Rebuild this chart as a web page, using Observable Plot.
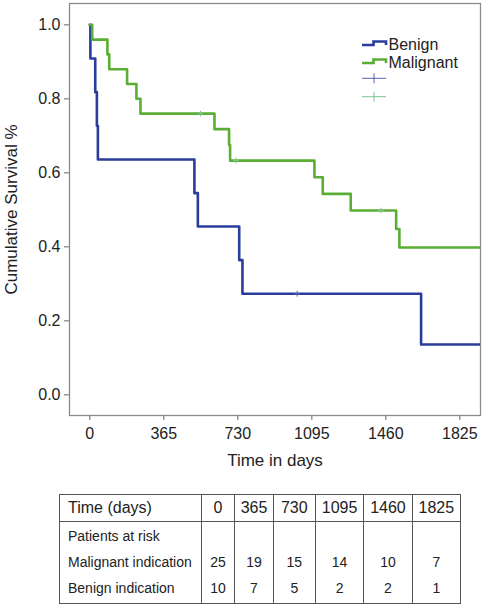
<!DOCTYPE html>
<html>
<head>
<meta charset="utf-8">
<script src="https://cdn.jsdelivr.net/npm/d3@7"></script>
<script src="https://cdn.jsdelivr.net/npm/@observablehq/plot@0.6"></script>
<style>
  html, body { margin: 0; padding: 0; background: #fff; }
  #wrap { position: relative; width: 483px; height: 605px; font-family: "Liberation Sans", Arial, sans-serif; color: #222; }
  #legend { position: absolute; left: 0; top: 0; pointer-events: none; }
  #risk { position: absolute; left: 59px; top: 494px; border-collapse: collapse; table-layout: fixed; color: #222; font-family: "Liberation Sans", Arial, sans-serif; }
  #risk td { border-left: 1.5px solid #555; border-right: 1.5px solid #555; padding: 0; text-align: center; }
  #risk { border: 1.5px solid #555; }
  #risk tr.head td { height: 26px; font-size: 16px; border-bottom: 1.5px solid #555; }
  #risk tr.body td { font-size: 14px; line-height: 26.2px; padding: 1px 0 1px 0; vertical-align: top; }
  #risk tr td.lab { text-align: left; padding-left: 8px; }
</style>
</head>
<body>
<div id="wrap"></div>
<script>
// ---- data ----
const seriesNames = ["Benign", "Malignant"];
const seriesColors = ["#2b3d9c", "#5aae33"];
const censorColors = ["#5466b4", "#7cc48e"];

const benignTime = [0, 3, 27, 35, 40, 516, 533, 737, 753, 1634, 1927];
const benignSurv = [1, 0.909, 0.818, 0.727, 0.636, 0.545, 0.455, 0.364, 0.273, 0.136, 0.136];
const benignCensorTime = [1023];
const benignCensorSurv = [0.273];

const malignantTime = [0, 12, 87, 96, 184, 230, 250, 615, 687, 692, 1108, 1149, 1287, 1511, 1527, 1927];
const malignantSurv = [1, 0.96, 0.92, 0.88, 0.84, 0.80, 0.76, 0.718, 0.676, 0.633, 0.588, 0.543, 0.498, 0.448, 0.398, 0.398];
const malignantCensorTime = [546, 720, 1437];
const malignantCensorSurv = [0.76, 0.633, 0.498];

const xTicks = [0, 365, 730, 1095, 1460, 1825];
const yTicks = [0, 0.2, 0.4, 0.6, 0.8, 1.0];
const xLabel = "Time in days";
const yLabel = "Cumulative Survival %";

const tableTimeLabel = "Time (days)";
const tableTimes = [0, 365, 730, 1095, 1460, 1825];
const atRiskLabel = "Patients at risk";
const malignantRowLabel = "Malignant indication";
const benignRowLabel = "Benign indication";
const malignantAtRisk = [25, 19, 15, 14, 10, 7];
const benignAtRisk = [10, 7, 5, 2, 2, 1];

// ---- build tidy tables ----
const curves = [
  ...benignTime.map((t, i) => ({series: seriesNames[0], t, s: benignSurv[i]})),
  ...malignantTime.map((t, i) => ({series: seriesNames[1], t, s: malignantSurv[i]}))
];
const censors = [
  ...benignCensorTime.map((t, i) => ({series: seriesNames[0], t, s: benignCensorSurv[i]})),
  ...malignantCensorTime.map((t, i) => ({series: seriesNames[1], t, s: malignantCensorSurv[i]}))
];

const font = "'Liberation Sans', Arial, sans-serif";

const chart = Plot.plot({
  width: 483,
  height: 480,
  marginLeft: 69,
  marginRight: 3,
  marginTop: 3,
  marginBottom: 65,
  style: {fontFamily: font, fontSize: "16px", color: "#222", background: "transparent"},
  x: {domain: [-100, 1927]},
  y: {domain: [-0.056, 1.0576]},
  color: {domain: seriesNames, range: seriesColors},
  marks: [
    Plot.frame({stroke: "#8a8a8a", strokeWidth: 1.3}),
    Plot.axisX({ticks: xTicks, tickFormat: d => String(d), tickSize: 5, tickPadding: 7, stroke: "#8a8a8a", strokeWidth: 1.3, fill: "#222", fontSize: 16, label: null}),
    Plot.axisY({ticks: yTicks, tickFormat: d => d.toFixed(1), tickSize: 5, tickPadding: 4, stroke: "#8a8a8a", strokeWidth: 1.3, fill: "#222", fontSize: 16, label: null}),
    Plot.line(curves, {x: "t", y: "s", z: "series", stroke: "series", curve: "step-after", strokeWidth: 2.6, clip: true}),
    Plot.dot(censors, {x: "t", y: "s", symbol: "plus", r: 2, stroke: d => censorColors[seriesNames.indexOf(d.series)], strokeWidth: 1}),
    Plot.text([xLabel], {frameAnchor: "bottom", dy: 45, lineAnchor: "middle", textAnchor: "middle", fontSize: 17, fill: "#222"}),
    Plot.text([yLabel], {frameAnchor: "left", dx: -58, rotate: -90, textAnchor: "middle", lineAnchor: "middle", fontSize: 17, fill: "#222"})
  ]
});

const wrap = document.getElementById("wrap");
wrap.appendChild(chart);

// ---- legend (inside plot area, top right) ----
const leg = d3.select(wrap).append("svg").attr("id", "legend").attr("width", 483).attr("height", 120);
seriesNames.forEach((name, i) => {
  const y0 = 45 + i * 18;
  leg.append("path")
    .attr("d", `M362,${y0}H373.5V${y0 - 3.5}H386V${y0}`)
    .attr("fill", "none").attr("stroke", seriesColors[i]).attr("stroke-width", 2.6);
  leg.append("text").attr("x", 388.5).attr("y", y0 - 1).attr("dy", "0.36em")
    .attr("font-family", font).attr("font-size", 16).attr("fill", "#222").text(name);
});
censorColors.forEach((c, i) => {
  const yc = 78.3 + i * 18.4;
  leg.append("path")
    .attr("d", `M362,${yc}H386M374,${yc - 5}V${yc + 5}`)
    .attr("fill", "none").attr("stroke", c).attr("stroke-width", 1);
});

// ---- at-risk table ----
const table = d3.select(wrap).append("table").attr("id", "risk");
const colW = [141.7, 33.6, 38.4, 42.3, 48.3, 48.4, 48.3];
const cg = table.append("colgroup");
colW.forEach(w => cg.append("col").style("width", w + "px"));
table.style("width", d3.sum(colW) + "px");
const head = table.append("tr").attr("class", "head");
head.append("td").attr("class", "lab").text(tableTimeLabel);
tableTimes.forEach(t => head.append("td").text(String(t)));
const body = table.append("tr").attr("class", "body");
body.append("td").attr("class", "lab").html(`${atRiskLabel}<br>${malignantRowLabel}<br>${benignRowLabel}`);
tableTimes.forEach((t, i) => body.append("td").html(`&nbsp;<br>${malignantAtRisk[i]}<br>${benignAtRisk[i]}`));
</script>
</body>
</html>
